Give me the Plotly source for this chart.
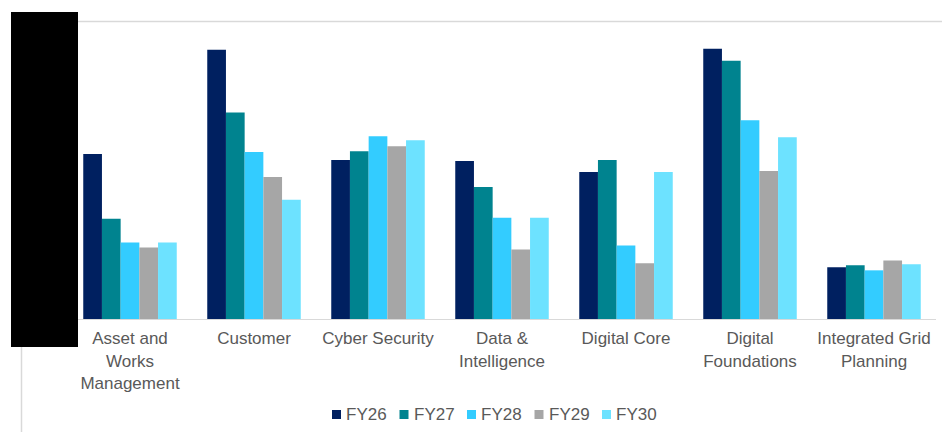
import plotly.graph_objects as go

categories = ["Asset and<br>Works<br>Management", "Customer", "Cyber Security",
              "Data &<br>Intelligence", "Digital Core", "Digital<br>Foundations",
              "Integrated Grid<br>Planning"]
series_names = ["FY26", "FY27", "FY28", "FY29", "FY30"]
fy26 = [16.6, 27.1, 16.0, 15.9, 14.8, 27.2, 5.2]
fy27 = [10.1, 20.8, 16.9, 13.3, 16.0, 26.0, 5.4]
fy28 = [7.7, 16.8, 18.4, 10.2, 7.4, 20.0, 4.9]
fy29 = [7.2, 14.3, 17.4, 7.0, 5.6, 14.9, 5.9]
fy30 = [7.7, 12.0, 18.0, 10.2, 14.8, 18.3, 5.5]
series_values = [fy26, fy27, fy28, fy29, fy30]
colors = ["#002060", "#00838F", "#33CCFF", "#A6A6A6", "#6DE2FF"]

W, H = 942, 432
ML, MR, MT, MB = 68, 6, 21, 113
PW, PH = W - ML - MR, H - MT - MB


def px_x(x):
    return (x - ML) / PW


def px_y(y):
    return (H - MB - y) / PH


fig = go.Figure()
for name, vals, col in zip(series_names, series_values, colors):
    fig.add_trace(go.Bar(name=name, x=categories, y=vals, marker_color=col,
                         marker_line_width=0, showlegend=False))

fig.update_layout(
    width=W, height=H,
    margin=dict(l=ML, r=MR, t=MT, b=MB),
    paper_bgcolor="white", plot_bgcolor="white",
    barmode="group", bargap=0.246, bargroupgap=0,
    font=dict(family="Liberation Sans, Arial, sans-serif", size=17, color="#595959"),
    showlegend=False,
)
fig.update_xaxes(showline=True, linecolor="#D9D9D9", linewidth=1, showgrid=False,
                 ticks="", ticklabelstandoff=4,
                 tickfont=dict(size=17, color="#595959"))
fig.update_yaxes(range=[0, 30], showgrid=False, zeroline=False, showticklabels=False,
                 ticks="")

# custom legend: small squares + text
leg_start, leg_step, sq = 332, 67.5, 9
leg_cy = 414.5
for i, (name, col) in enumerate(zip(series_names, colors)):
    x0 = leg_start + i * leg_step
    fig.add_shape(type="rect", xref="paper", yref="paper",
                  x0=px_x(x0), x1=px_x(x0 + sq),
                  y0=px_y(leg_cy + sq / 2), y1=px_y(leg_cy - sq / 2),
                  fillcolor=col, line=dict(width=0))
    fig.add_annotation(xref="paper", yref="paper", x=px_x(x0 + sq + 3), y=px_y(leg_cy),
                       text=name, showarrow=False, xanchor="left", yanchor="middle",
                       font=dict(size=17, color="#595959"))

# chart-area border lines (top and left)
fig.add_shape(type="line", xref="paper", yref="paper", x0=px_x(21), x1=px_x(950),
              y0=px_y(21.5), y1=px_y(21.5), line=dict(color="#D9D9D9", width=1.5))
fig.add_shape(type="line", xref="paper", yref="paper", x0=px_x(21.5), x1=px_x(21.5),
              y0=px_y(21.5), y1=px_y(440), line=dict(color="#D9D9D9", width=1.5))
# redaction box
fig.add_shape(type="rect", xref="paper", yref="paper", x0=px_x(11), x1=px_x(78),
              y0=px_y(347), y1=px_y(12), fillcolor="black", line=dict(width=0),
              layer="above")

fig.write_html("out.html", config={"displayModeBar": False},
               post_script="document.body.style.margin='0';"
                           "document.body.style.overflow='hidden';")
